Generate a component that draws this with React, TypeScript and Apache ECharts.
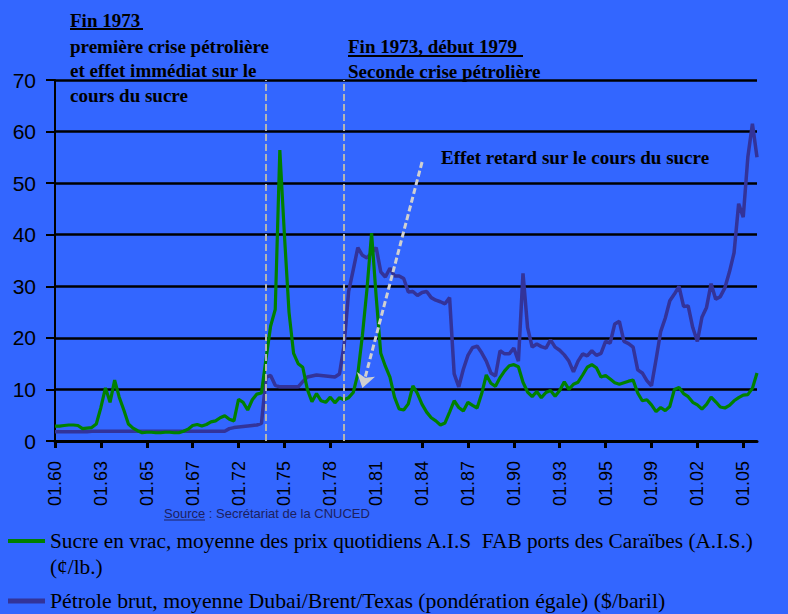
import React, { useEffect, useRef } from 'react';
import * as echarts from 'echarts';

// Tick labels of the (irregular) time axis, one every 10 data points
const tickLabels = ['01.60', '01.63', '01.65', '01.67', '01.72', '01.75', '01.78', '01.81', '01.84', '01.87', '01.90', '01.93', '01.95', '01.99', '01.02', '01.05'];
const POINTS_PER_TICK = 10;

// Sugar, Caribbean ports (cents/lb)
const sugarPrices = [
  2.9, 2.9, 3.0, 3.1, 3.1, 3.0, 2.4, 2.5, 2.6, 3.3,
  6.5, 10.3, 7.5, 11.8, 8.5, 6.0, 3.3, 2.5, 2.0, 1.6,
  1.7, 1.7, 1.6, 1.6, 1.7, 1.7, 1.6, 1.6, 1.9, 2.3,
  3.0, 3.2, 2.9, 3.2, 3.7, 3.9, 4.5, 4.9, 4.2, 3.9,
  8.1, 7.5, 6.0, 8.0, 9.1, 9.3, 16.0, 22.3, 25.5, 56.4,
  40.0, 25.0, 17.0, 15.0, 14.3, 10.0, 7.6, 9.2, 7.8, 7.5,
  8.5, 7.4, 8.4, 8.0, 8.4, 9.4, 13.0, 20.5, 29.5, 40.3,
  28.0, 17.0, 14.5, 12.4, 8.5, 6.2, 6.0, 7.2, 10.7, 9.2,
  7.1, 5.6, 4.5, 3.9, 3.1, 3.5, 5.6, 7.8, 6.5, 5.8,
  7.5, 6.9, 6.4, 9.2, 12.8, 11.2, 10.6, 12.3, 13.6, 14.6,
  14.8, 14.4, 11.4, 9.5, 8.6, 9.6, 8.4, 9.4, 9.8, 8.7,
  9.8, 11.5, 10.0, 11.0, 11.4, 12.8, 14.3, 14.8, 14.2, 12.4,
  12.7, 12.0, 11.3, 11.0, 11.3, 11.6, 11.8, 9.3, 7.8, 8.0,
  7.0, 5.7, 6.5, 5.9, 6.7, 10.0, 10.4, 9.2, 8.6, 7.5,
  7.0, 6.2, 7.1, 8.5, 7.6, 6.6, 6.4, 6.9, 7.8, 8.4,
  8.9, 9.0, 10.2, 13.2
];

// Crude oil, average Dubai/Brent/Texas ($/barrel)
const oilPrices = [
  1.8, 1.8, 1.8, 1.8, 1.8, 1.8, 1.8, 1.8, 1.9, 1.9,
  1.9, 1.9, 1.9, 1.9, 1.9, 1.9, 1.9, 1.9, 1.9, 1.9,
  1.9, 1.9, 1.9, 1.9, 1.9, 1.9, 1.9, 1.9, 1.9, 1.9,
  1.9, 1.9, 1.9, 1.9, 1.9, 1.9, 1.9, 1.9, 2.4, 2.6,
  2.7, 2.8, 2.9, 3.0, 3.1, 3.4, 12.4, 12.7, 10.8, 10.5,
  10.5, 10.5, 10.5, 10.5, 11.5, 12.4, 12.6, 12.8, 12.7, 12.6,
  12.5, 12.4, 13.0, 18.5, 29.0, 33.2, 37.5, 36.0, 35.5, 36.5,
  37.5, 32.8, 31.8, 33.5, 32.0, 32.0, 31.5, 28.9, 29.0, 28.2,
  28.8, 29.0, 27.8, 27.3, 27.0, 26.6, 27.8, 13.0, 10.5, 13.9,
  16.6, 18.1, 18.4, 17.1, 15.5, 13.2, 12.6, 17.5, 16.9, 16.9,
  18.0, 15.5, 32.5, 22.0, 18.2, 18.8, 18.3, 18.0, 19.6, 18.2,
  17.6, 16.7, 15.5, 13.4, 15.5, 16.9, 16.5, 17.5, 16.6, 17.0,
  19.3, 19.0, 22.7, 23.2, 19.3, 18.9, 18.2, 13.8, 13.2, 11.7,
  10.7, 15.8, 21.2, 23.8, 27.2, 28.5, 30.0, 26.1, 26.2, 22.0,
  19.3, 24.0, 25.9, 30.5, 27.5, 28.0, 29.7, 32.8, 36.5, 46.0,
  43.4, 55.0, 61.5, 55.0
];

// Category positions (data indices) of the two oil crises, and of the arrow
const crisisIndices = [46, 63];
const arrowFrom = [80, 54.1];
const arrowTo = [67, 10.3];
const missingTickIndex = 70;

const categories = oilPrices.map((_, i) =>
  i % POINTS_PER_TICK === 0 ? tickLabels[i / POINTS_PER_TICK] : `p${i}`
);

const serifBold = 'bold 19px "Liberation Serif", "Times New Roman", serif';
const legendFont1 = '21.3px "Liberation Serif", "Times New Roman", serif';
const legendFont2 = '21.8px "Liberation Serif", "Times New Roman", serif';

export default function App() {
  const ref = useRef<HTMLDivElement>(null);

  useEffect(() => {
    if (!ref.current) return;
    const chart = echarts.init(ref.current, null, { renderer: 'svg' });
    const option: any = {
      animation: false,
      backgroundColor: '#3366FF',
      grid: { left: 55, right: 31, top: 80, bottom: 173, containLabel: false },
      xAxis: {
        type: 'category',
        data: categories,
        boundaryGap: false,
        axisLine: { show: true, lineStyle: { color: '#000', width: 3 } },
        axisTick: {
          show: true,
          length: 7,
          lineStyle: { color: '#000', width: 3 },
          interval: (i: number) => i % POINTS_PER_TICK === 0 && i !== missingTickIndex,
        },
        axisLabel: {
          interval: (i: number) => i % POINTS_PER_TICK === 0,
          rotate: 90,
          margin: 20,
          color: '#000',
          fontSize: 18,
          fontFamily: '"Liberation Sans", Arial, sans-serif',
        },
        splitLine: { show: false },
      },
      yAxis: {
        type: 'value',
        min: 0,
        max: 70,
        interval: 10,
        axisLine: { show: true, lineStyle: { color: '#000', width: 2 } },
        axisTick: { show: true, length: 9, lineStyle: { color: '#000', width: 2 } },
        axisLabel: {
          color: '#000',
          fontSize: 21,
          margin: 19,
          fontFamily: '"Liberation Sans", Arial, sans-serif',
        },
        splitLine: { show: true, lineStyle: { color: '#000', width: 2.5 } },
      },
      series: [
        {
          name: 'Pétrole brut',
          type: 'line',
          data: oilPrices,
          symbol: 'none',
          lineStyle: { color: '#333399', width: 3.5 },
          z: 2,
          markLine: {
            silent: true,
            symbol: ['none', 'none'],
            label: { show: false },
            lineStyle: { color: '#B4B4B4', width: 2, type: [7, 3] },
            data: crisisIndices.map((idx) => ({ xAxis: idx })),
          },
        },
        {
          name: 'Sucre en vrac',
          type: 'line',
          data: sugarPrices,
          symbol: 'none',
          lineStyle: { color: '#008000', width: 3.2 },
          z: 3,
          markLine: {
            silent: true,
            symbolSize: 14,
            label: { show: false },
            data: [
              [
                { coord: arrowFrom, symbol: 'none', lineStyle: { color: '#D0D0D0', width: 3, type: [6, 3] } },
                { coord: arrowTo, symbol: 'arrow' },
              ],
            ],
          },
        },
      ],
      graphic: [
        { type: 'text', x: 70, y: 20, style: { text: 'Fin 1973', font: serifBold, fill: '#000', verticalAlign: 'middle' } },
        { type: 'line', shape: { x1: 70, y1: 29, x2: 143, y2: 29 }, style: { stroke: '#000', lineWidth: 2 } },
        { type: 'text', x: 70, y: 46, style: { text: 'première crise pétrolière', font: serifBold, fill: '#000', verticalAlign: 'middle' } },
        { type: 'text', x: 70, y: 70, style: { text: 'et effet immédiat sur le', font: serifBold, fill: '#000', verticalAlign: 'middle' } },
        { type: 'text', x: 70, y: 95, style: { text: 'cours du sucre', font: serifBold, fill: '#000', verticalAlign: 'middle' } },
        { type: 'text', x: 348, y: 46, style: { text: 'Fin 1973, début 1979', font: serifBold, fill: '#000', verticalAlign: 'middle' } },
        { type: 'line', shape: { x1: 348, y1: 56, x2: 523, y2: 56 }, style: { stroke: '#000', lineWidth: 2 } },
        { type: 'text', x: 348, y: 71, style: { text: 'Seconde crise pétrolière', font: serifBold, fill: '#000', verticalAlign: 'middle' } },
        { type: 'text', x: 441, y: 157, style: { text: 'Effet retard sur le cours du sucre', font: serifBold, fill: '#000', verticalAlign: 'middle' } },
        { type: 'text', x: 164, y: 513, style: { text: 'Source : Secrétariat de la CNUCED', font: '13px "Liberation Sans", Arial, sans-serif', fill: '#1C2160', verticalAlign: 'middle' } },
        { type: 'line', shape: { x1: 164, y1: 520, x2: 205, y2: 520 }, style: { stroke: '#1C2160', lineWidth: 1 } },
        { type: 'line', shape: { x1: 8, y1: 541, x2: 45, y2: 541 }, style: { stroke: '#008000', lineWidth: 4 } },
        { type: 'text', x: 50, y: 541, style: { text: 'Sucre en vrac, moyenne des prix quotidiens A.I.S  FAB ports des Caraïbes (A.I.S.)', font: legendFont1, fill: '#000', verticalAlign: 'middle' } },
        { type: 'text', x: 50, y: 567, style: { text: '(¢/lb.)', font: legendFont1, fill: '#000', verticalAlign: 'middle' } },
        { type: 'line', shape: { x1: 8, y1: 601, x2: 45, y2: 601 }, style: { stroke: '#333399', lineWidth: 5 } },
        { type: 'text', x: 50, y: 601, style: { text: 'Pétrole brut, moyenne Dubai/Brent/Texas (pondération égale) ($/baril)', font: legendFont2, fill: '#000', verticalAlign: 'middle' } },
      ],
    };
    chart.setOption(option);
    return () => chart.dispose();
  }, []);

  return (
    <div
      ref={ref}
      style={{ position: 'fixed', left: 0, top: 0, width: 788, height: 614, background: '#3366FF' }}
    />
  );
}
